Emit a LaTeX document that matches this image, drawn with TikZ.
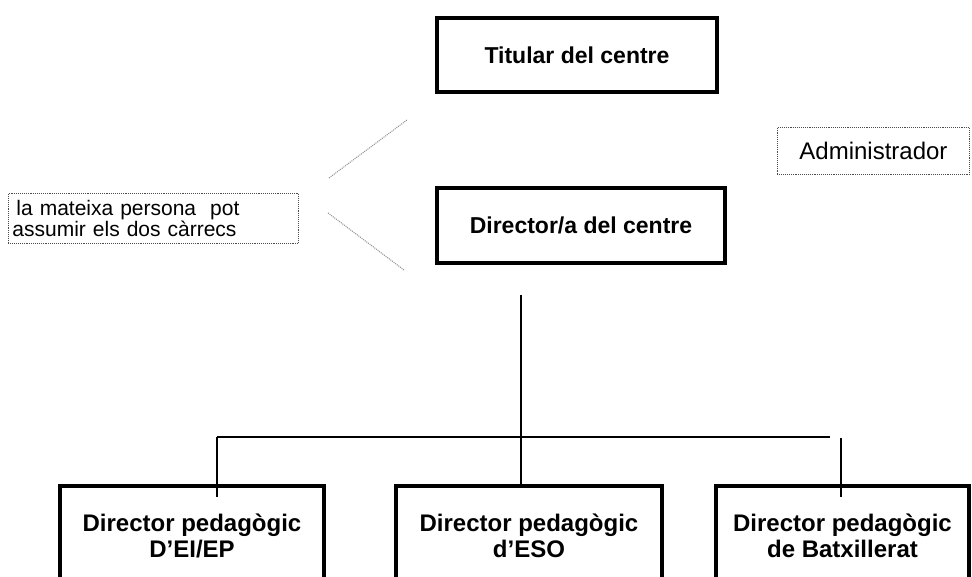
\documentclass[tikz,border=0pt]{standalone}
\usepackage{fontspec}
\setmainfont{Liberation Sans}
\usepackage{tikz}
\usetikzlibrary{positioning}

\tikzset{
    orgbox/.style={draw=black, line width=4pt, anchor=north west, inner sep=2pt,
        align=center, font=\bfseries\fontsize{23}{26}\selectfont},
    pedbox/.style={orgbox, minimum height=100pt, font=\bfseries\fontsize{24}{26}\selectfont},
    notebox/.style={draw=black!70, densely dotted, line width=0.9pt, anchor=north west,
        inner sep=4pt, font=\fontsize{21}{21}\selectfont},
    link/.style={line width=2pt},
    hint/.style={draw=black!45, densely dotted, line width=1pt}
}

\begin{document}
\begin{tikzpicture}[x=1pt,y=-1pt]
    \clip (0,0) rectangle (972,577);
    \useasboundingbox (0,0) rectangle (972,577);

    %% top of the chart
    \node[orgbox, minimum width=280pt, minimum height=74pt] (titular) at (435,16) {Titular del centre};
    \node[orgbox, minimum width=288pt, minimum height=75pt] (director) at (435,186) {Director/a del centre};

    %% side notes
    \node[notebox, text width=282pt, minimum height=50pt, align=left] (persona) at (8,193)
        {\hspace*{4pt}la mateixa persona\ \ pot\\assumir els dos càrrecs};
    \node[notebox, minimum width=192pt, minimum height=47pt, font=\fontsize{24}{24}\selectfont] (admin) at (777,127) {Administrador};

    \coordinate (hintA) at (329,178);
    \coordinate (hintB) at (407,120);
    \coordinate (hintC) at (328,213);
    \coordinate (hintD) at (404,270);
    \draw[hint] (hintA) -- (hintB);
    \draw[hint] (hintC) -- (hintD);

    %% pedagogical directors
    \node[pedbox, minimum width=264pt] (dirEI) at (58,484) {Director pedagògic\\D’EI/EP};
    \node[pedbox, minimum width=266pt] (dirESO) at (394,484) {Director pedagògic\\d’ESO};
    \node[pedbox, minimum width=253pt] (dirBat) at (714,484) {Director pedagògic\\de Batxillerat};

    %% connectors
    \coordinate (trunk) at (521,295);
    \coordinate (barL) at (217,437);
    \coordinate (barR) at (830,437);
    \coordinate (dropR) at (841,438);
    \draw[link] (trunk) -- (trunk |- dirESO.north) ++(0,-6) coordinate (trunkEnd);
    \draw[link] (barL) -- (barR);
    \draw[link] (barL) -- ++(0,60);
    \draw[link] (dropR) -- ++(0,59);
\end{tikzpicture}
\end{document}
